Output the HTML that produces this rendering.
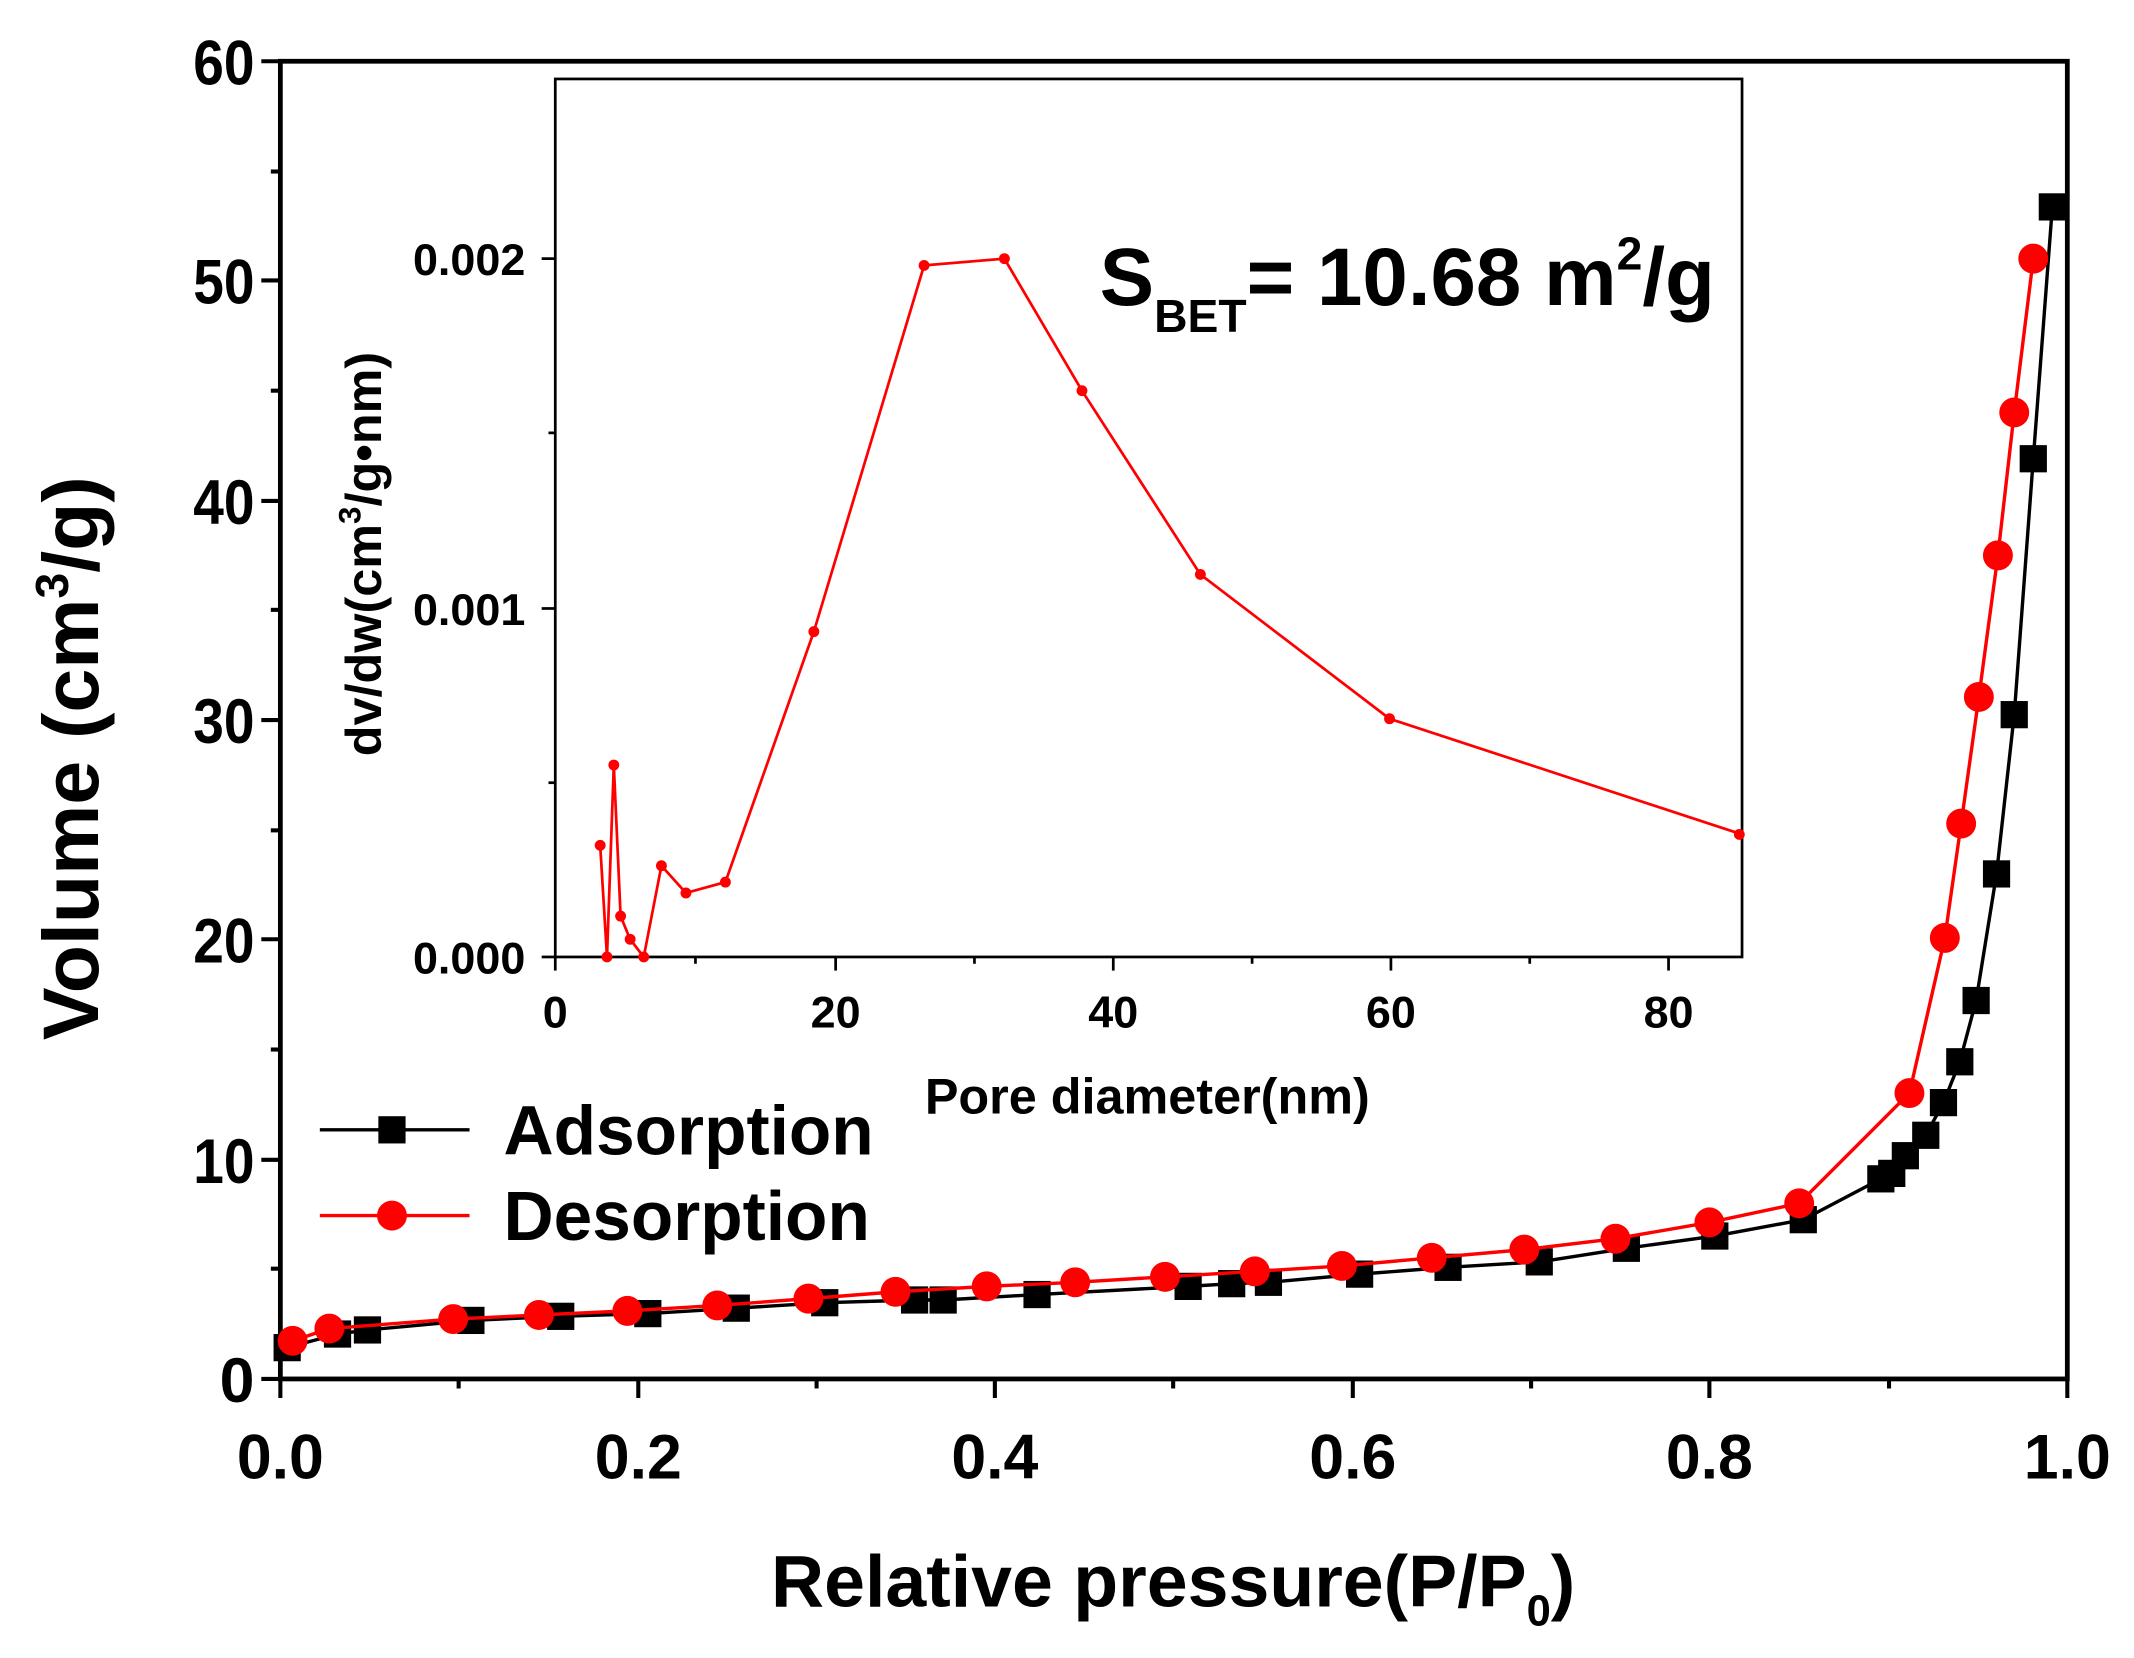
<!DOCTYPE html>
<html><head><meta charset="utf-8"><style>html,body{margin:0;padding:0;background:#fff}svg{display:block}</style></head>
<body>
<svg width="2134" height="1658" viewBox="0 0 1568 1218" preserveAspectRatio="none" xmlns="http://www.w3.org/2000/svg" font-family="Liberation Sans, Arial, sans-serif" font-weight="bold">
<rect width="1568" height="1218" fill="#fff"/>
<rect x="206" y="45" width="1313" height="968" fill="none" stroke="#000" stroke-width="3.5"/>
<g stroke="#000" stroke-width="3">
<line x1="192" y1="45" x2="206" y2="45"/><line x1="192" y1="206" x2="206" y2="206"/><line x1="192" y1="368" x2="206" y2="368"/><line x1="192" y1="529" x2="206" y2="529"/><line x1="192" y1="690" x2="206" y2="690"/><line x1="192" y1="852" x2="206" y2="852"/><line x1="192" y1="1013" x2="206" y2="1013"/>
<line x1="199" y1="126" x2="206" y2="126"/><line x1="199" y1="287" x2="206" y2="287"/><line x1="199" y1="448" x2="206" y2="448"/><line x1="199" y1="610" x2="206" y2="610"/><line x1="199" y1="771" x2="206" y2="771"/><line x1="199" y1="932" x2="206" y2="932"/>
<line x1="206" y1="1013" x2="206" y2="1027"/><line x1="469" y1="1013" x2="469" y2="1027"/><line x1="731" y1="1013" x2="731" y2="1027"/><line x1="994" y1="1013" x2="994" y2="1027"/><line x1="1256" y1="1013" x2="1256" y2="1027"/><line x1="1519" y1="1013" x2="1519" y2="1027"/>
<line x1="337" y1="1013" x2="337" y2="1020"/><line x1="600" y1="1013" x2="600" y2="1020"/><line x1="862" y1="1013" x2="862" y2="1020"/><line x1="1125" y1="1013" x2="1125" y2="1020"/><line x1="1388" y1="1013" x2="1388" y2="1020"/>
</g>
<g font-size="46" text-anchor="end">
<text x="187" y="62" textLength="45" lengthAdjust="spacingAndGlyphs">60</text><text x="187" y="223" textLength="45" lengthAdjust="spacingAndGlyphs">50</text><text x="187" y="385" textLength="45" lengthAdjust="spacingAndGlyphs">40</text><text x="187" y="546" textLength="45" lengthAdjust="spacingAndGlyphs">30</text><text x="187" y="707" textLength="45" lengthAdjust="spacingAndGlyphs">20</text><text x="187" y="869" textLength="45" lengthAdjust="spacingAndGlyphs">10</text><text x="187" y="1030">0</text>
</g>
<g font-size="46" text-anchor="middle">
<text x="206" y="1086">0.0</text><text x="469" y="1086">0.2</text><text x="731" y="1086">0.4</text><text x="994" y="1086">0.6</text><text x="1256" y="1086">0.8</text><text x="1519" y="1086">1.0</text>
</g>
<text x="862" y="1180" font-size="54" text-anchor="middle">Relative pressure(P/P<tspan font-size="32" dy="14">0</tspan><tspan dy="-14">)</tspan></text>
<text transform="translate(72,557) rotate(-90)" font-size="58" text-anchor="middle">Volume (cm<tspan font-size="34" dy="-22">3</tspan><tspan dy="22">/g)</tspan></text>
<rect x="408" y="58" width="872" height="645" fill="none" stroke="#000" stroke-width="2"/>
<g stroke="#000" stroke-width="2">
<line x1="398" y1="703" x2="408" y2="703"/><line x1="398" y1="447" x2="408" y2="447"/><line x1="398" y1="190" x2="408" y2="190"/>
<line x1="403" y1="575" x2="408" y2="575"/><line x1="403" y1="318" x2="408" y2="318"/>
<line x1="408" y1="703" x2="408" y2="713"/><line x1="614" y1="703" x2="614" y2="713"/><line x1="818" y1="703" x2="818" y2="713"/><line x1="1022" y1="703" x2="1022" y2="713"/><line x1="1226" y1="703" x2="1226" y2="713"/>
<line x1="511" y1="703" x2="511" y2="708"/><line x1="716" y1="703" x2="716" y2="708"/><line x1="920" y1="703" x2="920" y2="708"/><line x1="1124" y1="703" x2="1124" y2="708"/>
</g>
<g font-size="33" text-anchor="end">
<text x="386" y="715">0.000</text><text x="386" y="459">0.001</text><text x="386" y="202">0.002</text>
</g>
<g font-size="33" text-anchor="middle">
<text x="408" y="755">0</text><text x="614" y="755">20</text><text x="818" y="755">40</text><text x="1022" y="755">60</text><text x="1226" y="755">80</text>
</g>
<text x="843" y="818" font-size="37" text-anchor="middle">Pore diameter(nm)</text>
<text transform="translate(280,407) rotate(-90)" font-size="37" text-anchor="middle">dv/dw(cm<tspan font-size="23" dy="-15">3</tspan><tspan dy="15">/g•nm)</tspan></text>
<polyline fill="none" stroke="#f00" stroke-width="2" points="441,621 446,703 451,562 456,673 463,690 473,703 486,636 504,656 533,648 598,464 679,195 738,190 795,287 882,422 1021,528 1280,613"/>
<g fill="#f00"><circle cx="441" cy="621" r="4"/><circle cx="446" cy="703" r="4"/><circle cx="451" cy="562" r="4"/><circle cx="456" cy="673" r="4"/><circle cx="463" cy="690" r="4"/><circle cx="473" cy="703" r="4"/><circle cx="486" cy="636" r="4"/><circle cx="504" cy="656" r="4"/><circle cx="533" cy="648" r="4"/><circle cx="598" cy="464" r="4"/><circle cx="679" cy="195" r="4"/><circle cx="738" cy="190" r="4"/><circle cx="795" cy="287" r="4"/><circle cx="882" cy="422" r="4"/><circle cx="1021" cy="528" r="4"/><circle cx="1278" cy="613" r="4"/></g>
<text x="808" y="224" font-size="60">S<tspan font-size="34" dy="20">BET</tspan><tspan dy="-20">= 10.68 m</tspan><tspan font-size="34" dy="-26">2</tspan><tspan dy="26">/g</tspan></text>
<polyline fill="none" stroke="#000" stroke-width="2.5" points="211,990 248,980 270,977 346,970 412,967 476,965 541,961 606,957 672,955 693,955 762,951 873,945 905,943 932,942 999,936 1064,931 1131,927 1195,917 1260,908 1325,896 1382,866 1390,862 1400,849 1415,834 1428,810 1440,780 1452,735 1467,642 1480,525 1494,337 1508,152"/>
<g fill="#000" transform="translate(-10,-10)">
<rect x="211" y="990" width="20" height="20"/><rect x="248" y="980" width="20" height="20"/><rect x="270" y="977" width="20" height="20"/><rect x="346" y="970" width="20" height="20"/><rect x="412" y="967" width="20" height="20"/><rect x="476" y="965" width="20" height="20"/><rect x="541" y="961" width="20" height="20"/><rect x="606" y="957" width="20" height="20"/><rect x="672" y="955" width="20" height="20"/><rect x="693" y="955" width="20" height="20"/><rect x="762" y="951" width="20" height="20"/><rect x="873" y="945" width="20" height="20"/><rect x="905" y="943" width="20" height="20"/><rect x="932" y="942" width="20" height="20"/><rect x="999" y="936" width="20" height="20"/><rect x="1064" y="931" width="20" height="20"/><rect x="1131" y="927" width="20" height="20"/><rect x="1195" y="917" width="20" height="20"/><rect x="1260" y="908" width="20" height="20"/><rect x="1325" y="896" width="20" height="20"/><rect x="1382" y="866" width="20" height="20"/><rect x="1390" y="862" width="20" height="20"/><rect x="1400" y="849" width="20" height="20"/><rect x="1415" y="834" width="20" height="20"/><rect x="1428" y="810" width="20" height="20"/><rect x="1440" y="780" width="20" height="20"/><rect x="1452" y="735" width="20" height="20"/><rect x="1467" y="642" width="20" height="20"/><rect x="1480" y="525" width="20" height="20"/><rect x="1494" y="337" width="20" height="20"/><rect x="1508" y="152" width="20" height="20"/>
</g>
<polyline fill="none" stroke="#f00" stroke-width="2.5" points="215,985 242,976 333,969 396,966 461,963 527,959 594,954 658,949 725,945 790,942 856,938 922,934 986,930 1052,924 1120,918 1187,910 1256,898 1322,884 1403,803 1429,689 1441,605 1454,512 1468,408 1480,303 1494,190"/>
<g fill="#f00">
<circle cx="215" cy="985" r="11"/><circle cx="242" cy="976" r="11"/><circle cx="333" cy="969" r="11"/><circle cx="396" cy="966" r="11"/><circle cx="461" cy="963" r="11"/><circle cx="527" cy="959" r="11"/><circle cx="594" cy="954" r="11"/><circle cx="658" cy="949" r="11"/><circle cx="725" cy="945" r="11"/><circle cx="790" cy="942" r="11"/><circle cx="856" cy="938" r="11"/><circle cx="922" cy="934" r="11"/><circle cx="986" cy="930" r="11"/><circle cx="1052" cy="924" r="11"/><circle cx="1120" cy="918" r="11"/><circle cx="1187" cy="910" r="11"/><circle cx="1256" cy="898" r="11"/><circle cx="1322" cy="884" r="11"/><circle cx="1403" cy="803" r="11"/><circle cx="1429" cy="689" r="11"/><circle cx="1441" cy="605" r="11"/><circle cx="1454" cy="512" r="11"/><circle cx="1468" cy="408" r="11"/><circle cx="1480" cy="303" r="11"/><circle cx="1494" cy="190" r="11"/>
</g>
<line x1="235" y1="830" x2="345" y2="830" stroke="#000" stroke-width="2.5"/>
<rect x="278" y="820" width="20" height="20" fill="#000"/>
<text x="370" y="848" font-size="51">Adsorption</text>
<line x1="235" y1="893" x2="345" y2="893" stroke="#f00" stroke-width="2.5"/>
<circle cx="288" cy="893" r="11" fill="#f00"/>
<text x="370" y="911" font-size="51">Desorption</text>
</svg>
</body></html>
